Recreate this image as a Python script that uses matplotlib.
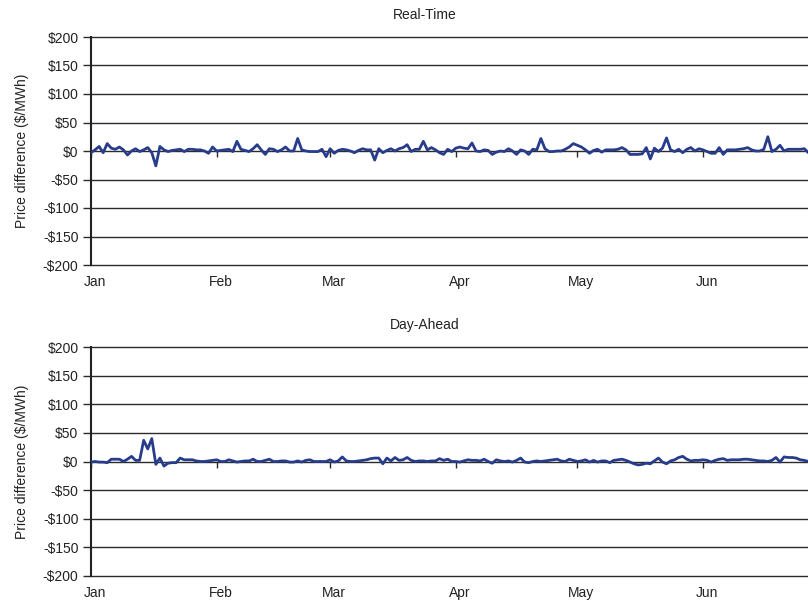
import matplotlib
matplotlib.use("Agg")
import matplotlib.pyplot as plt
import matplotlib.transforms as mtransforms
import numpy as np

plt.rcParams['font.family'] = ['Liberation Sans', 'DejaVu Sans']

# daily price differences, Jan 1 .. Jun 27 ($/MWh)
real_time = [-3, 2, 8, -3, 13, 5, 3, 7, 2, -7, 0, 4, -1, 2, 6, -3, -26, 8, 2, -1,
             1, 2, 3, -1, 3, 3, 2, 2, 0, -4, 7, 0, 1, 2, 3, -1, 17, 3, 1, -1,
             4, 11, 2, -6, 4, 3, -1, 2, 7, 0, 0, 22, 2, 0, -1, -1, -1, 3, -10, 4,
             -4, 1, 3, 2, 0, -3, 1, 4, 2, 2, -16, 4, -3, 1, 4, 0, 4, 6, 11, -1,
             3, 3, 17, 2, 6, 2, -3, -6, 3, -1, 5, 7, 5, 4, 14, 0, -1, 2, 1, -6,
             -2, 0, -1, 4, 0, -6, 2, 0, -6, 3, 2, 22, 4, -1, -1, 0, 0, 3, 7, 13,
             10, 7, 2, -4, 1, 3, -2, 2, 2, 2, 3, 6, 2, -6, -6, -6, -5, 6, -14, 5,
             -1, 5, 23, 2, -1, 3, -3, 3, 6, 0, 4, 2, -1, -4, -4, 6, -6, 2, 2, 2,
             3, 4, 6, 2, 0, 0, 3, 25, -1, 3, 10, 0, 3, 3, 3, 3, 4, -3, 1]

day_ahead = [-1, 0, -1, -1, -2, 4, 4, 4, 0, 4, 9, 2, 2, 37, 22, 40, -5, 6, -8, -3,
             -2, -2, 6, 3, 3, 3, 1, 0, 0, 1, 2, 3, 0, 0, 3, 1, -1, 0, 1, 1,
             4, 0, 0, 2, 4, 0, 0, 1, 1, -1, -1, 1, -1, 2, 3, 0, 0, 0, 0, 3,
             -1, 1, 8, 1, 0, 0, 1, 2, 3, 5, 6, 6, -4, 6, 1, 7, 2, 3, 7, 2,
             0, 1, 1, 0, 1, 1, 5, 2, 4, 0, 0, -1, 1, 3, 2, 2, 1, 4, 0, -3,
             3, 1, 0, 1, -1, 2, 6, -1, -2, 0, 1, 0, 1, 2, 3, 4, 1, 0, 4, 2,
             0, 1, 3, -1, 2, -1, 1, 1, -2, 2, 3, 4, 2, -1, -4, -6, -5, -3, -4, 1,
             6, -1, -4, 1, 3, 7, 9, 4, 1, 2, 2, 3, 2, -1, 2, 4, 5, 2, 3, 3,
             3, 4, 4, 3, 2, 1, 1, 0, 2, 7, -1, 8, 7, 7, 6, 3, 2, 0, 0]

month_starts = [0, 31, 59, 90, 120, 151]
month_labels = ['Jan', 'Feb', 'Mar', 'Apr', 'May', 'Jun']
y_ticks = [-200, -150, -100, -50, 0, 50, 100, 150, 200]
y_labels = ['-$%d' % -v if v < 0 else '$%d' % v for v in y_ticks]

W, H = 808, 603
fig = plt.figure(figsize=(W / 100, H / 100), dpi=100)

line_color = '#283C8C'
grid_color = '#2b2b2b'
px_per_day = 4.053
n_days = 181


def make_panel(top_px, bot_px, values, title):
    ax = fig.add_axes([91 / W, 1 - bot_px / H, n_days * px_per_day / W, (bot_px - top_px) / H])
    x = np.arange(len(values))
    ax.plot(x, values, color=line_color, lw=2, zorder=3)
    ax.set_xlim(0, n_days)
    ax.set_ylim(-200, 200)
    ax.set_yticks(y_ticks)
    ax.set_yticklabels(y_labels, fontsize=10, color='#222222')
    for v in y_ticks:
        ax.axhline(v, color=grid_color, lw=1, zorder=1, clip_on=False)
    for s in ['top', 'right', 'bottom']:
        ax.spines[s].set_visible(False)
    ax.spines['left'].set_linewidth(1.5)
    ax.spines['left'].set_color('#222222')
    ax.tick_params(axis='y', length=6, width=1, color=grid_color, pad=3)
    ax.set_xticks(month_starts)
    ax.set_xticklabels(month_labels, fontsize=10, color='#222222')
    ax.tick_params(axis='x', length=0, pad=7)
    offset = mtransforms.ScaledTranslation(4 / 100, 0, fig.dpi_scale_trans)
    for lab in ax.get_xticklabels():
        lab.set_transform(lab.get_transform() + offset)
    # small tick marks hanging below the zero line
    sec = ax.secondary_xaxis(0.5)
    sec.set_xticks(month_starts)
    sec.set_xticklabels([])
    sec.xaxis.set_ticks_position('bottom')
    sec.tick_params(axis='x', length=4, width=1, color=grid_color, direction='out')
    for s in sec.spines.values():
        s.set_visible(False)
    fig.text(425 / W, 1 - (top_px - 22) / H, title, ha='center', va='center', fontsize=10, color='#222222')
    fig.text(22 / W, 1 - ((top_px + bot_px) / 2) / H, 'Price difference ($/MWh)', rotation=90,
             ha='center', va='center', fontsize=10, color='#222222')
    return ax


make_panel(37, 265, real_time, 'Real-Time')
make_panel(347, 576, day_ahead, 'Day-Ahead')

fig.savefig('out.png', dpi=100)
